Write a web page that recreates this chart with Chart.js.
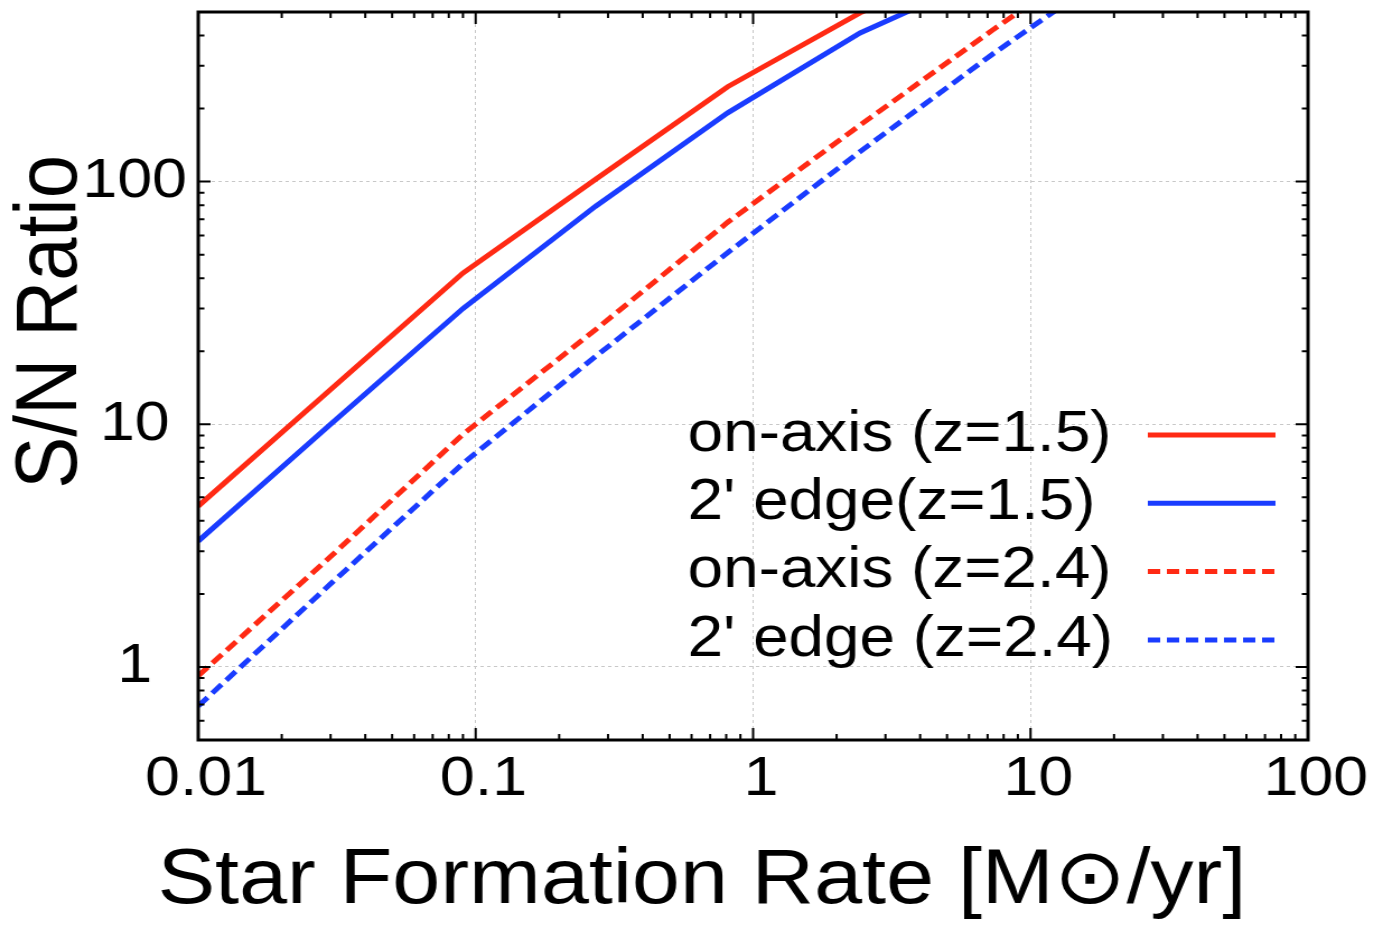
<!DOCTYPE html>
<html>
<head>
<meta charset="utf-8">
<script src="https://cdn.jsdelivr.net/npm/chart.js@4.4.1/dist/chart.umd.min.js"></script>
<style>
html, body { margin: 0; padding: 0; background: #fff; }
</style>
</head>
<body>
<!-- the original figure is a little stretched sideways, so the canvas is drawn narrower and widened by its style -->
<canvas id="chart" width="1235" height="928" style="width:1383px;height:928px;display:block"></canvas>
<script>
var sfr = [0.01, 0.03, 0.09, 0.27, 0.81, 2.43, 7.29, 21.87];
var onAxisZ15 = [4.6, 13.9, 42, 102, 246, 496, 870, null];
var edgeZ15 = [3.3, 10, 30, 79, 192, 410, 720, null];
var onAxisZ24 = [0.92, 2.85, 9.1, 24.5, 68, 171, 421, 1000];
var edgeZ24 = [0.69, 2.2, 6.9, 19, 51, 133, 335, 800];

var seriesLabels = ["on-axis (z=1.5)", "2' edge(z=1.5)", "on-axis (z=2.4)", "2' edge (z=2.4)"];
var xTicks = [0.01, 0.1, 1, 10, 100];
var xTickLabels = ['0.01', '0.1', '1', '10', '100'];
var yTicks = [1, 10, 100];
var yTickLabels = ['1', '10', '100'];

var RED = '#ff2a14';
var BLUE = '#1a3cff';
var FONT = '"Liberation Sans", Arial, Helvetica, sans-serif';

var toPoints = function(values) {
	return sfr.map(function(x, i) { return { x: x, y: values[i] }; });
};

var makeSet = function(label, values, color, dash) {
	return {
		label: label,
		data: toPoints(values),
		borderColor: color,
		backgroundColor: color,
		borderWidth: 5,
		borderDash: dash,
		pointRadius: 0,
		tension: 0,
		clip: 0
	};
};

// 1..9 x 10^n between min and max, used for the inside tick marks
var logSteps = function(min, max) {
	var out = [];
	for (var d = Math.floor(Math.log10(min)); d <= Math.ceil(Math.log10(max)); d++) {
		for (var k = 1; k <= 9; k++) {
			var v = k * Math.pow(10, d);
			if (v >= min * 0.999 && v <= max * 1.001) out.push({ v: v, major: k === 1 });
		}
	}
	return out;
};

var frameAndTicks = {
	id: 'frameAndTicks',
	afterDatasetsDraw: function(chart) {
		var ctx = chart.ctx, a = chart.chartArea;
		var xs = chart.scales.x, ys = chart.scales.y;
		ctx.save();
		ctx.strokeStyle = '#000';
		ctx.lineWidth = 2;
		ctx.beginPath();
		logSteps(xs.min, xs.max).forEach(function(t) {
			var px = xs.getPixelForValue(t.v);
			var len = t.major ? 12 : 6;
			ctx.moveTo(px, a.bottom); ctx.lineTo(px, a.bottom - len);
			ctx.moveTo(px, a.top); ctx.lineTo(px, a.top + len);
		});
		logSteps(ys.min, ys.max).forEach(function(t) {
			var py = ys.getPixelForValue(t.v);
			var len = t.major ? 11 : 5.5;
			ctx.moveTo(a.left, py); ctx.lineTo(a.left + len, py);
			ctx.moveTo(a.right, py); ctx.lineTo(a.right - len, py);
		});
		ctx.stroke();
		ctx.lineWidth = 3;
		ctx.strokeRect(a.left, a.top, a.right - a.left, a.bottom - a.top);
		ctx.restore();
	}
};

var insideLegend = {
	id: 'insideLegend',
	afterDraw: function(chart) {
		var ctx = chart.ctx, a = chart.chartArea;
		ctx.save();
		ctx.font = '57px ' + FONT;
		ctx.textAlign = 'left';
		ctx.textBaseline = 'middle';
		chart.data.datasets.forEach(function(ds, i) {
			var y = a.bottom - 305 + i * 68.3;
			ctx.fillStyle = '#000';
			ctx.fillText(ds.label, a.right - 554, y);
			ctx.strokeStyle = ds.borderColor;
			ctx.lineWidth = ds.borderWidth;
			ctx.setLineDash(ds.borderDash.length ? [11, 6] : []);
			ctx.beginPath();
			ctx.moveTo(a.right - 143, y);
			ctx.lineTo(a.right - 29, y);
			ctx.stroke();
		});
		ctx.restore();
	}
};

Chart.defaults.font.family = FONT;
Chart.defaults.color = '#000';

new Chart(document.getElementById('chart'), {
	type: 'line',
	data: {
		datasets: [
			makeSet(seriesLabels[0], onAxisZ15, RED, []),
			makeSet(seriesLabels[1], edgeZ15, BLUE, []),
			makeSet(seriesLabels[2], onAxisZ24, RED, [12, 6]),
			makeSet(seriesLabels[3], edgeZ24, BLUE, [12, 6])
		]
	},
	options: {
		responsive: false,
		animation: false,
		layout: { padding: { left: 0, right: 67, top: 12, bottom: 0 } },
		plugins: {
			legend: { display: false },
			tooltip: { enabled: false },
			// x axis title, set as the chart title so it is not squeezed to the plot width
			title: {
				display: true,
				position: 'bottom',
				text: '    Star Formation Rate [M\u2299/yr]',
				color: '#000',
				font: { size: 77, weight: 'normal' },
				padding: { top: 0, bottom: 0 }
			}
		},
		scales: {
			x: {
				type: 'logarithmic',
				min: 0.01,
				max: 100,
				afterBuildTicks: function(scale) {
					scale.ticks = xTicks.map(function(v) { return { value: v }; });
				},
				afterFit: function(scale) {
					scale.height = 188 - 77 * 1.2;
					scale.paddingLeft = 0;
					scale.paddingRight = 0;
				},
				grid: { color: '#c8c8c8', lineWidth: 1, drawTicks: false },
				border: { display: false, dash: [3, 3] },
				ticks: {
					padding: 6,
					labelOffset: 7,
					autoSkip: false,
					maxRotation: 0,
					font: { size: 56 },
					callback: function(value, index) { return xTickLabels[index]; }
				}
			},
			y: {
				type: 'logarithmic',
				min: 0.5,
				max: 500,
				afterBuildTicks: function(scale) {
					scale.ticks = yTicks.map(function(v) { return { value: v }; });
				},
				afterFit: function(scale) {
					scale.width = 177;
					scale.paddingTop = 0;
					scale.paddingBottom = 0;
				},
				grid: { color: '#c8c8c8', lineWidth: 1, drawTicks: false },
				border: { display: false, dash: [3, 3] },
				ticks: {
					padding: 10,
					crossAlign: 'center',
					autoSkip: false,
					font: { size: 56 },
					callback: function(value, index) { return yTickLabels[index]; }
				},
				title: {
					display: true,
					text: '     S/N Ratio',
					font: { size: 78 },
					padding: { top: 0, bottom: 0 }
				}
			}
		}
	},
	plugins: [frameAndTicks, insideLegend]
});
</script>
</body>
</html>
